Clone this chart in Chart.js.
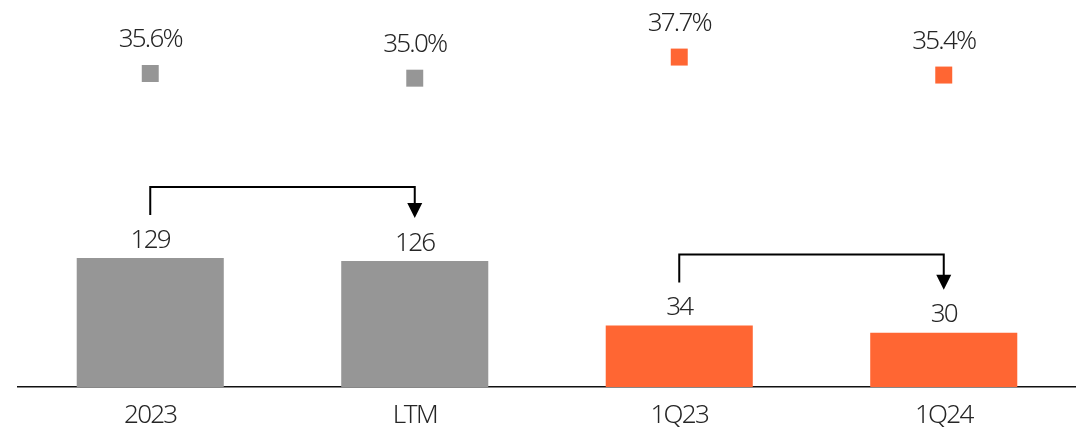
<!DOCTYPE html>
<html>
<head>
<meta charset="utf-8">
<script src="https://cdn.jsdelivr.net/npm/chart.js@4"></script>
<style>
  body { margin: 0; background: #fff; }
  #wrap { width: 1076px; height: 429px; }
</style>
</head>
<body>
<div id="wrap"><canvas id="chart" width="1076" height="429"></canvas></div>
<script>
const categories = ["2023", "LTM", "1Q23", "1Q24"];
const annualValues = [129, 126, null, null];
const quarterValues = [null, null, 34, 30];
const marginValues = [35.6, 35.0, 37.7, 35.4];
const marginLabels = ["35.6%", "35.0%", "37.7%", "35.4%"];
const arrowPairs = [[0, 1], [2, 3]];

const GRAY = "#969696";
const ORANGE = "#ff6633";
const TEXT = "#262626";
const FONT = '"Noto Sans", "Open Sans", "DejaVu Sans Condensed", sans-serif';
const FONT_WEIGHT = "300";
const FONT_SIZE = 26;

// tighter tracking so the light font is as narrow as the original
const trackingPlugin = {
  id: "tracking",
  beforeDraw(chart) {
    chart.ctx.letterSpacing = "-1.75px";
  }
};

// value labels above bars and above the margin squares
const labelPlugin = {
  id: "labels",
  afterDatasetsDraw(chart) {
    const ctx = chart.ctx;
    ctx.save();
    ctx.fillStyle = TEXT;
    ctx.font = FONT_WEIGHT + " " + FONT_SIZE + "px " + FONT;
    ctx.textAlign = "center";
    ctx.textBaseline = "alphabetic";
    chart.data.datasets.forEach((ds, di) => {
      const meta = chart.getDatasetMeta(di);
      meta.data.forEach((el, i) => {
        if (ds.data[i] == null) return;
        if (ds.type === "line") {
          ctx.fillText(marginLabels[i], el.x, el.y - 26.5);
        } else {
          ctx.fillText(String(ds.data[i]), el.x, el.y - 10.5);
        }
      });
    });
    ctx.restore();
  }
};

// bracket arrows between bars
const arrowPlugin = {
  id: "arrows",
  afterDatasetsDraw(chart) {
    const ctx = chart.ctx;
    const barAt = (i) => {
      for (let di = 0; di < chart.data.datasets.length; di++) {
        const ds = chart.data.datasets[di];
        if (ds.type !== "line" && ds.data[i] != null) return chart.getDatasetMeta(di).data[i];
      }
    };
    ctx.save();
    ctx.strokeStyle = "#000";
    ctx.fillStyle = "#000";
    ctx.lineWidth = 2;
    arrowPairs.forEach(([a, b]) => {
      const e1 = barAt(a), e2 = barAt(b);
      const y1 = e1.y - 43, y2 = e2.y - 43;
      const yTop = Math.min(e1.y, e2.y) - 71;
      ctx.beginPath();
      ctx.moveTo(e1.x, y1);
      ctx.lineTo(e1.x, yTop);
      ctx.lineTo(e2.x, yTop);
      ctx.lineTo(e2.x, y2 - 14);
      ctx.stroke();
      ctx.beginPath();
      ctx.moveTo(e2.x - 7.5, y2 - 15);
      ctx.lineTo(e2.x + 7.5, y2 - 15);
      ctx.lineTo(e2.x, y2);
      ctx.closePath();
      ctx.fill();
    });
    ctx.restore();
  }
};

new Chart(document.getElementById("chart"), {
  type: "bar",
  data: {
    labels: categories,
    datasets: [
      {
        type: "line",
        data: marginValues,
        yAxisID: "yPct",
        showLine: false,
        pointStyle: "rect",
        pointRadius: 12,
        pointBorderWidth: 0,
        pointBackgroundColor: [GRAY, GRAY, ORANGE, ORANGE],
        order: 0
      },
      {
        data: annualValues,
        yAxisID: "y",
        backgroundColor: GRAY,
        grouped: false,
        barPercentage: 0.556,
        categoryPercentage: 1,
        order: 1
      },
      {
        data: quarterValues,
        yAxisID: "yQ",
        backgroundColor: ORANGE,
        grouped: false,
        barPercentage: 0.556,
        categoryPercentage: 1,
        order: 1
      }
    ]
  },
  options: {
    responsive: false,
    animation: false,
    events: [],
    layout: { autoPadding: false, padding: { left: 18, right: 0, top: 0, bottom: 0 } },
    plugins: { legend: { display: false }, tooltip: { enabled: false } },
    scales: {
      x: {
        grid: { display: false, drawTicks: false },
        border: { display: true, color: "#111", width: 1.5 },
        ticks: { color: TEXT, font: { family: FONT, size: FONT_SIZE, weight: FONT_WEIGHT }, padding: 13, maxRotation: 0 },
        afterFit(scale) { scale.height = 42; }
      },
      y: { display: false, min: 0, max: 387 },
      yQ: { display: false, min: 0, max: 214 },
      yPct: { display: false, min: -4.5, max: 45 }
    }
  },
  plugins: [trackingPlugin, labelPlugin, arrowPlugin]
});
</script>
</body>
</html>
